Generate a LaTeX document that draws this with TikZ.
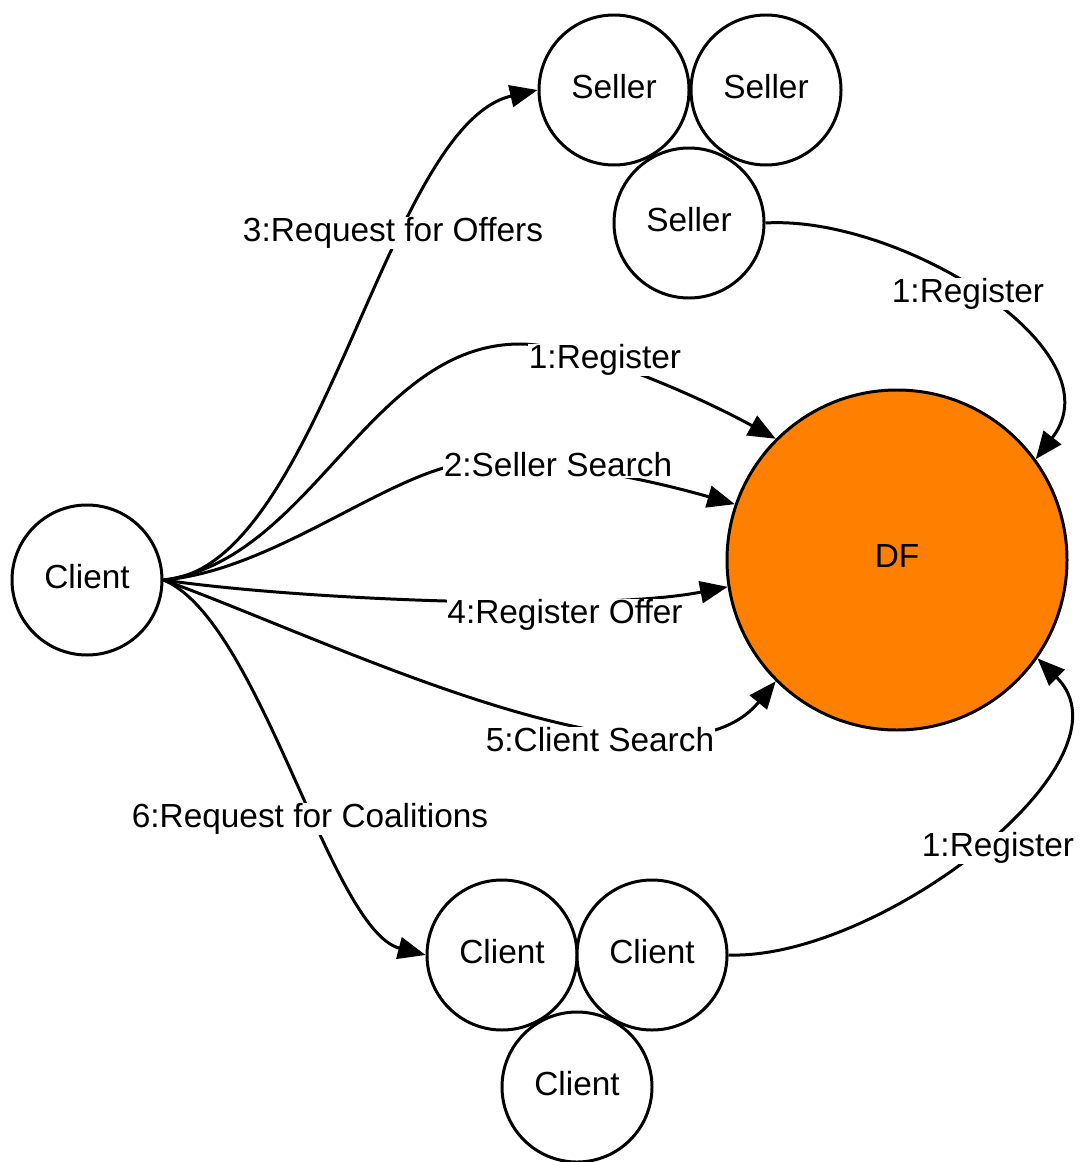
\documentclass[tikz,border=0pt]{standalone}
\usepackage{fontspec}
\setmainfont{Liberation Sans}
\usetikzlibrary{arrows.meta}
\definecolor{dforange}{RGB}{255,128,0}
\tikzset{
  agent/.style={circle, draw, line width=1.7pt, fill=white, minimum size=3cm, inner sep=0pt, text depth=4.5pt},
  flow/.style={line width=1.7pt, -{Triangle[length=5.5mm, width=4.4mm]}},
  lbl/.style={fill=white, inner sep=0.5pt}
}
\begin{document}
\begin{tikzpicture}[font=\fontsize{19}{23}\selectfont]
      \useasboundingbox (0,0) rectangle (21.58,-23.24);
      \node[agent] (client) at (1.74,-11.6) {Client};
      \node[agent] (seller1) at (12.28,-1.8) {Seller};
      \node[agent] (seller2) at (15.32,-1.8) {Seller};
      \node[agent] (seller3) at (13.78,-4.46) {Seller};
      \node[agent, fill=dforange, minimum size=6.8cm] (df) at (17.94,-11.2) {DF};
      \node[agent] (client1) at (10.04,-19.1) {Client};
      \node[agent] (client2) at (13.04,-19.1) {Client};
      \node[agent] (client3) at (11.54,-21.74) {Client};

      % client talks to the sellers, the DF and the other clients
      \draw[flow] (client.east) .. controls (6.4,-11.4) and (7.7,-2.5) .. (seller1.west);
      \draw[flow] (client.east) .. controls (6.24,-11.2) and (7.4,-6.88) .. (10.4,-6.88)
                                .. controls (11.6,-6.88) and (13.96,-7.92) .. (df.135);
      \draw[flow] (client.east) .. controls (5.6,-11.4) and (8.0,-9.24) .. (9.6,-9.24)
                                .. controls (11.2,-9.24) and (12.78,-9.54) .. (df.161);
      \draw[flow] (client.east) .. controls (6.0,-12.0) and (12.0,-12.24) .. (df.189);
      \draw[flow] (client.east) .. controls (6.6,-12.8) and (13.4,-16.2) .. (df.225);
      \draw[flow] (client.east) .. controls (5.2,-12.4) and (6.6,-18.6) .. (client1.west);
      % registration of sellers and clients
      \draw[flow] (seller3.east) .. controls (18.0,-4.3) and (22.4,-7.0) .. (df.36.5);
      \draw[flow] (client2.east) .. controls (17.6,-19.2) and (22.8,-15.2) .. (df.-35.5);

      \node[lbl] (l3) at (7.86,-4.66) {3:Request for Offers};
      \node[lbl] (l1) at (12.1,-7.2) {1:Register};
      \node[lbl] (l2) at (11.16,-9.3) {2:Seller Search};
      \node[lbl] (l4) at (11.3,-12.3) {4:Register Offer};
      \node[lbl] (l5) at (12.0,-14.8) {5:Client Search};
      \node[lbl] (l6) at (6.2,-16.38) {6:Request for Coalitions};
      \node[lbl] (lr1) at (19.36,-5.88) {1:Register};
      \node[lbl] (lr2) at (19.96,-16.96) {1:Register};
    \end{tikzpicture}
\end{document}
